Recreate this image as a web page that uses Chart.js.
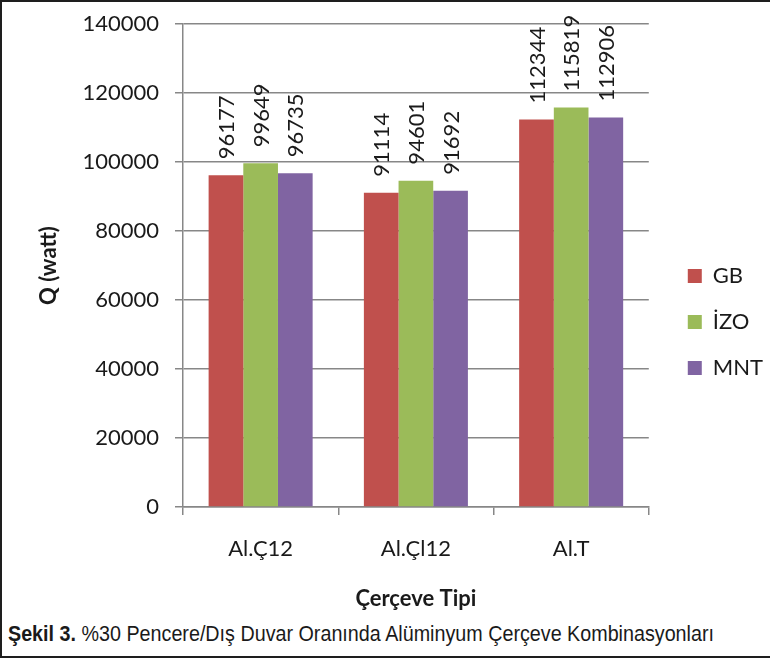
<!DOCTYPE html>
<html lang="tr">
<head>
<meta charset="utf-8">
<title>Çerçeve Tipi</title>
<script src="https://cdn.jsdelivr.net/npm/chart.js@4.4.1/dist/chart.umd.min.js"></script>
<style>
  html, body { margin: 0; padding: 0; background: #fff; }
  #kutu {
    position: relative; width: 770px; height: 658px; overflow: hidden;
    box-sizing: border-box; border-top: 2px solid #1e1e1e; border-left: 2px solid #1e1e1e; border-bottom: 2px solid #1e1e1e;
  }
  #grafikAlan { position: absolute; left: -2px; top: -2px; width: 770px; height: 620px; }
  #altyazi {
    position: absolute; left: 6px; top: 619px; white-space: nowrap;
    font-family: "Liberation Sans Narrow", "Liberation Sans", sans-serif; font-size: 22px; color: #1a1a1a;
    transform-origin: 0 0;
  }
  #altyazi b { font-weight: bold; }
</style>
</head>
<body>
<div id="kutu">
  <div id="grafikAlan"><canvas id="qChart"></canvas></div>
  <div id="altyazi"><b>Şekil 3.</b> %30 Pencere/Dış Duvar Oranında Alüminyum Çerçeve Kombinasyonları</div>
</div>
<script>
/* ============================================================
   VERİ
============================================================ */
const CERCEVE_TIPLERI = ['Al.Ç12', 'Al.Çl12', 'Al.T'];
const GB_DEGERLERI    = [96177, 91114, 112344];
const IZO_DEGERLERI   = [99649, 94601, 115819];
const MNT_DEGERLERI   = [96735, 91692, 112906];
const Y_MAKS = 140000;
const Y_ADIM = 20000;

const YAZI = 'Lato, "Open Sans", sans-serif';
const GRI  = '#878787';

/* Çubukların üstüne dikey değer yazısı */
const degerEtiketleri = {
    id: 'degerEtiketleri',
    afterDatasetsDraw(chart) {
        const ctx = chart.ctx;
        ctx.save();
        ctx.font = `22px ${YAZI}`;
        ctx.fillStyle = '#1a1a1a';
        ctx.textAlign = 'left';
        ctx.textBaseline = 'middle';
        chart.data.datasets.forEach((ds, i) => {
            chart.getDatasetMeta(i).data.forEach((bar, j) => {
                ctx.save();
                ctx.translate(bar.x, bar.y - 16);
                ctx.rotate(-Math.PI / 2);
                ctx.fillText(String(ds.data[j]), 0, 1);
                ctx.restore();
            });
        });
        ctx.restore();
    }
};

/* Lejantı grafik alanından biraz sağa it */
const lejantKaydir = {
    id: 'lejantKaydir',
    afterLayout(chart) {
        const lg = chart.legend;
        if (!lg) return;
        lg.left += 15;
        lg.right += 15;
    }
};

function grafikCiz() {
    const ctx = document.getElementById('qChart').getContext('2d');
    new Chart(ctx, {
        type: 'bar',
        data: {
            labels: CERCEVE_TIPLERI,
            datasets: [
                { label: 'GB',  data: GB_DEGERLERI,  backgroundColor: '#C0504D' },
                { label: 'İZO', data: IZO_DEGERLERI, backgroundColor: '#9BBB59' },
                { label: 'MNT', data: MNT_DEGERLERI, backgroundColor: '#8064A2' }
            ]
        },
        options: {
            responsive: true,
            maintainAspectRatio: false,
            animation: false,
            datasets: { bar: { categoryPercentage: 0.67, barPercentage: 1.0, borderWidth: 0 } },
            layout: { padding: { left: 2, top: 24, right: 12, bottom: 0 } },
            plugins: {
                legend: {
                    position: 'right',
                    labels: {
                        boxWidth: 14, boxHeight: 14, padding: 24,
                        color: '#1a1a1a', font: { family: YAZI, size: 22 }
                    }
                },
                tooltip: { enabled: false }
            },
            scales: {
                x: {
                    grid: { offset: true, drawOnChartArea: false, drawTicks: true, tickLength: 8, color: GRI, lineWidth: 1.5 },
                    border: { color: GRI, width: 1.5 },
                    ticks: { color: '#1a1a1a', padding: 21, font: { family: YAZI, size: 22 } },
                    title: { display: true, text: 'Çerçeve Tipi', color: '#1a1a1a', padding: { top: 0, bottom: 8 },
                             font: { family: YAZI, size: 22, weight: 'bold' } },
                    afterFit: s => { s.height = 113; }
                },
                y: {
                    min: 0, max: Y_MAKS,
                    grid: { drawTicks: true, tickLength: 8, color: GRI, lineWidth: 1.5 },
                    border: { color: GRI, width: 1.5 },
                    ticks: { stepSize: Y_ADIM, color: '#1a1a1a', padding: 16, font: { family: YAZI, size: 22 },
                             callback: v => String(v) },
                    title: { display: true, text: 'Q (watt)', color: '#1a1a1a', padding: { top: 34, bottom: 0 },
                             font: { family: YAZI, size: 22, weight: 'bold' } },
                    afterFit: s => { s.width = 181; s.paddingTop = 0; s.paddingBottom = 0; }
                }
            }
        },
        plugins: [degerEtiketleri, lejantKaydir]
    });
}

/* Alt yazıyı kutu genişliğine göre yatay ölçekle */
function altyaziAyarla() {
    const el = document.getElementById('altyazi');
    const w = el.getBoundingClientRect().width;
    el.style.transform = `scaleX(${706 / w})`;
}

grafikCiz();
altyaziAyarla();
</script>
</body>
</html>
